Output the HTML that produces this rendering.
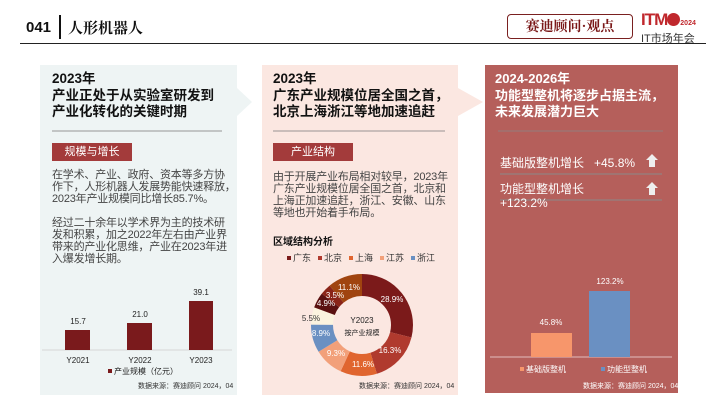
<!DOCTYPE html>
<html><head><meta charset="utf-8"><style>
*{margin:0;padding:0;box-sizing:border-box}
body{width:720px;height:405px;background:#fff;position:relative;overflow:hidden;font-family:"Liberation Sans","Noto Sans CJK SC",sans-serif;color:#333}
.a{position:absolute;white-space:nowrap}
.t{font-weight:bold;font-size:13.5px;line-height:16.5px;color:#111}
.p{font-size:11px;line-height:12px;color:#444;letter-spacing:-0.2px}
.tag{background:#a33b3b;color:#fff;font-size:11px;text-align:center;line-height:18px}
.src{font-size:7px;color:#333}
</style></head><body>
<div class="a" style="left:26px;top:19px;font-size:15px;font-weight:bold;color:#111">041</div>
<div class="a" style="left:59px;top:15px;width:2px;height:24px;background:#111"></div>
<div class="a" style="left:68px;top:17px;font-size:15px;font-weight:bold;color:#111;font-family:'Noto Serif CJK SC',serif">人形机器人</div>
<div class="a" style="left:507px;top:14px;width:126px;height:25px;border:1px solid #7a2020;border-radius:4px;color:#7a1818;font-size:14px;font-weight:bold;text-align:center;line-height:23px;font-family:'Noto Serif CJK SC',serif">赛迪顾问·观点</div>
<div class="a" style="left:641px;top:10px;font-size:17px;font-weight:900;color:#c0282d;letter-spacing:-1px">ITM<span style="display:inline-block;width:13px;height:13px;border-radius:50%;background:#c0282d;vertical-align:-1px"></span><span style="font-size:7px;letter-spacing:0">2024</span></div>
<div class="a" style="left:641px;top:30px;font-size:11px;color:#333">IT市场年会</div>
<div class="a" style="left:20px;top:43px;width:686px;height:1px;background:#222"></div>

<svg class="a" style="left:0;top:0" width="720" height="405">
<polygon points="40,65 237,65 237,88 252,102 237,116 237,395 40,395" fill="#eef4f4"/>
<polygon points="262,65 458,65 458,88 483,102 458,116 458,395 262,395" fill="#fbe7e1"/>
<rect x="485" y="65" width="193" height="328" fill="#b55f5b"/>
<line x1="52" y1="131" x2="222" y2="131" stroke="#777" stroke-width="0.8"/>
<line x1="273" y1="131" x2="445" y2="131" stroke="#777" stroke-width="0.8"/>
<line x1="498" y1="131" x2="663" y2="131" stroke="#888" stroke-width="0.8"/>
<line x1="500" y1="174" x2="662" y2="174" stroke="#8a8a8a" stroke-width="1"/>
<line x1="500" y1="200" x2="662" y2="200" stroke="#8a8a8a" stroke-width="1"/>
<line x1="42" y1="350" x2="232" y2="350" stroke="#ccc" stroke-width="0.8"/>
<rect x="65" y="330" width="25" height="20" fill="#7a1a1c"/>
<rect x="127" y="323" width="25" height="27" fill="#7a1a1c"/>
<rect x="189" y="301" width="24" height="49" fill="#7a1a1c"/>
<g font-size="8" fill="#222" text-anchor="middle">
<text x="78" y="324">15.7</text><text x="140" y="317">21.0</text><text x="201" y="295">39.1</text>
<text x="78" y="363">Y2021</text><text x="140" y="363">Y2022</text><text x="201" y="363">Y2023</text>
</g>
<rect x="108" y="369" width="4" height="4" fill="#7a1a1c"/>
<text x="114" y="374" font-size="8" fill="#222">产业规模（亿元）</text>
<g transform="rotate(-90 362 325)" fill="none" stroke-width="22">
<circle cx="362" cy="325" r="40" stroke="#7b1a1a" stroke-dasharray="72.63 300" stroke-dashoffset="0"/>
<circle cx="362" cy="325" r="40" stroke="#b03a2e" stroke-dasharray="40.97 300" stroke-dashoffset="-72.63"/>
<circle cx="362" cy="325" r="40" stroke="#e0652f" stroke-dasharray="29.15 300" stroke-dashoffset="-113.6"/>
<circle cx="362" cy="325" r="40" stroke="#f2a07a" stroke-dasharray="23.37 300" stroke-dashoffset="-142.75"/>
<circle cx="362" cy="325" r="40" stroke="#6a90c2" stroke-dasharray="22.37 300" stroke-dashoffset="-166.12"/>
<circle cx="362" cy="325" r="40" stroke="#fbf3df" stroke-dasharray="13.82 300" stroke-dashoffset="-188.5"/>
<circle cx="362" cy="325" r="40" stroke="#5a1010" stroke-dasharray="12.32 300" stroke-dashoffset="-202.32"/>
<circle cx="362" cy="325" r="40" stroke="#8a2418" stroke-dasharray="8.8 300" stroke-dashoffset="-214.64"/>
<circle cx="362" cy="325" r="40" stroke="#a0440f" stroke-dasharray="27.9 300" stroke-dashoffset="-223.44"/>
</g>
<g font-size="8" fill="#fff" text-anchor="middle">
<text x="392" y="302">28.9%</text><text x="390" y="353">16.3%</text><text x="363" y="367">11.6%</text>
<text x="336" y="356">9.3%</text><text x="321" y="336">8.9%</text><text x="311" y="321" fill="#333">5.5%</text>
<text x="326" y="306">4.9%</text><text x="335" y="298">3.5%</text><text x="349" y="290">11.1%</text>
</g>
<text x="362" y="323" font-size="8" fill="#222" text-anchor="middle">Y2023</text>
<text x="362" y="335" font-size="7" fill="#222" text-anchor="middle">按产业规模</text>
<g font-size="9" fill="#333">
<rect x="287" y="256" width="4" height="4" fill="#7b1a1a"/><text x="293" y="261">广东</text>
<rect x="318" y="256" width="4" height="4" fill="#b03a2e"/><text x="324" y="261">北京</text>
<rect x="349" y="256" width="4" height="4" fill="#e0652f"/><text x="355" y="261">上海</text>
<rect x="380" y="256" width="4" height="4" fill="#f2a07a"/><text x="386" y="261">江苏</text>
<rect x="411" y="256" width="4" height="4" fill="#6a90c2"/><text x="417" y="261">浙江</text>
</g>
<line x1="490" y1="357" x2="672" y2="357" stroke="#f3dede" stroke-width="0.8"/>
<rect x="531" y="333" width="41" height="24" fill="#f7966b"/>
<rect x="589" y="291" width="41" height="66" fill="#6a90c2"/>
<g font-size="8" fill="#fff" text-anchor="middle">
<text x="551" y="325">45.8%</text><text x="610" y="284">123.2%</text>
</g>
<rect x="520" y="367" width="4" height="4" fill="#f7966b"/><text x="526" y="372" font-size="8" fill="#fff">基础版整机</text>
<rect x="601" y="367" width="4" height="4" fill="#6a90c2"/><text x="607" y="372" font-size="8" fill="#fff">功能型整机</text>
<g fill="#eee"><polygon points="652,154 658,160 655,160 655,167 649,167 649,160 646,160"/><polygon points="652,182 658,188 655,188 655,195 649,195 649,188 646,188"/></g>
</svg>

<div class="a t" style="left:52px;top:71px">2023年<br>产业正处于从实验室研发到<br>产业化转化的关键时期</div>
<div class="a tag" style="left:52px;top:143px;width:80px">规模与增长</div>
<div class="a p" style="left:52px;top:169px">在学术、产业、政府、资本等多方协<br>作下，人形机器人发展势能快速释放，<br>2023年产业规模同比增长85.7%。<br><br>经过二十余年以学术界为主的技术研<br>发和积累，加之2022年左右由产业界<br>带来的产业化思维，产业在2023年进<br>入爆发增长期。</div>
<div class="a src" style="left:138px;top:381px">数据来源：赛迪顾问 2024，04</div>

<div class="a t" style="left:273px;top:71px">2023年<br>广东产业规模位居全国之首，<br>北京上海浙江等地加速追赶</div>
<div class="a tag" style="left:273px;top:143px;width:80px">产业结构</div>
<div class="a p" style="left:273px;top:171px">由于开展产业布局相对较早，2023年<br>广东产业规模位居全国之首，北京和<br>上海正加速追赶，浙江、安徽、山东<br>等地也开始着手布局。</div>
<div class="a" style="left:273px;top:233px;font-size:10px;font-weight:bold;color:#111">区域结构分析</div>
<div class="a src" style="left:359px;top:381px">数据来源：赛迪顾问 2024，04</div>

<div class="a t" style="left:495px;top:71px;color:#fff;font-size:13px">2024-2026年<br>功能型整机将逐步占据主流，<br>未来发展潜力巨大</div>
<div class="a" style="left:500px;top:154px;font-size:12px;color:#fff">基础版整机增长&nbsp;&nbsp;&nbsp;+45.8%</div>
<div class="a" style="left:500px;top:182px;font-size:12px;color:#fff;line-height:14px">功能型整机增长<br>+123.2%</div>
<div class="a src" style="left:583px;top:381px;color:#fff">数据来源：赛迪顾问 2024，04</div>
</body></html>
